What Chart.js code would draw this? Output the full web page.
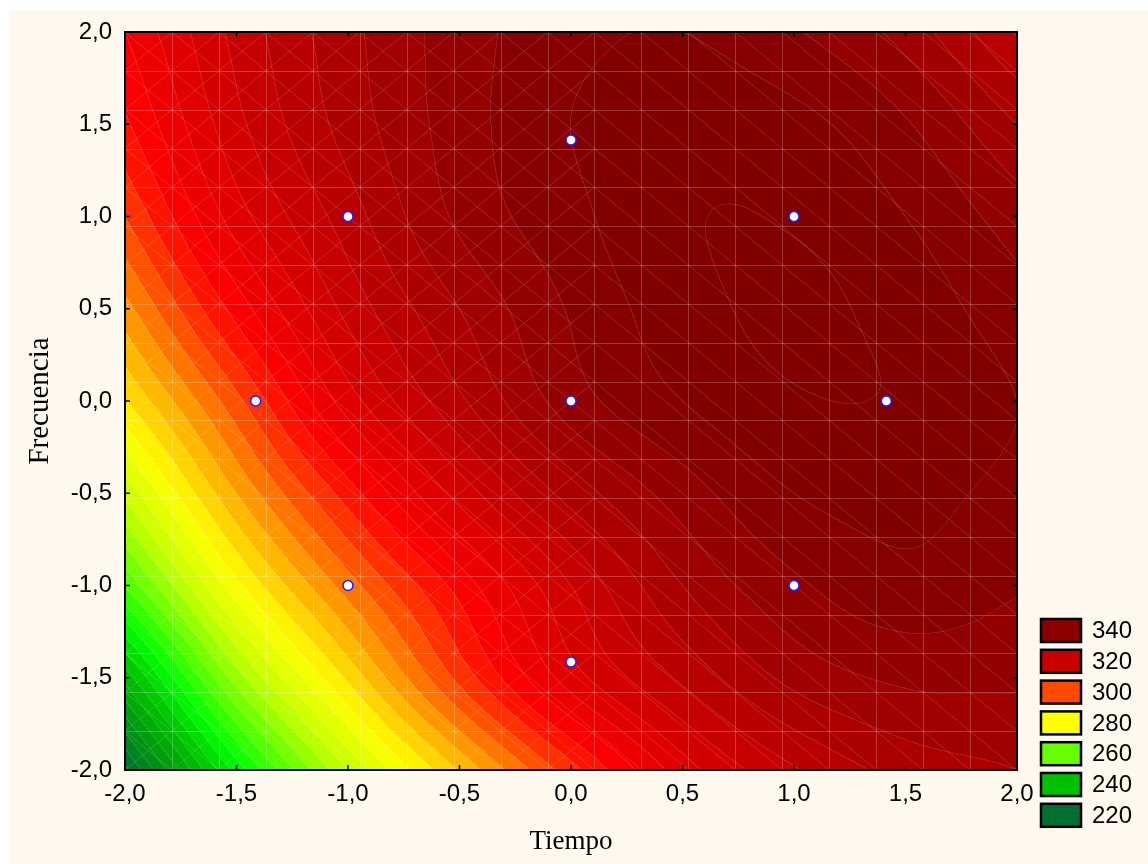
<!DOCTYPE html>
<html>
<head>
<meta charset="utf-8">
<script src="https://cdn.jsdelivr.net/npm/chart.js@4.4.0/dist/chart.umd.min.js"></script>
<style>
  html, body { margin: 0; padding: 0; background: #fff; }
  canvas { display: block; }
</style>
</head>
<body>
<canvas id="contour" width="1148" height="864"></canvas>
<script>
// surface, node grid every 0.5 (rows top -> bottom)
const gridTiempo = [-2, -1.5, -1, -0.5, 0, 0.5, 1, 1.5, 2];
const gridFrecuencia = [2, 1.5, 1, 0.5, 0, -0.5, -1, -1.5, -2];
const respuesta = [
  [310, 321, 329, 335, 339, 340, 337, 332, 323],
  [306, 319, 328, 335, 340, 342, 341, 337, 330],
  [300, 315, 325, 334, 339, 343, 343, 340, 335],
  [292, 308, 321, 330, 337, 342, 344, 342, 338],
  [283, 299, 315, 326, 335, 340, 343, 343, 340],
  [271, 290, 305, 318, 328, 335, 340, 341, 339],
  [257, 279, 295, 308, 320, 330, 336, 339, 337],
  [238, 265, 284, 301, 315, 324, 331, 334, 334],
  [219, 248, 270, 287, 302, 315, 323, 328, 330]
];

// design points
const puntosTiempo = [-1, 1, -1, 1, -1.414, 1.414, 0, 0, 0];
const puntosFrecuencia = [-1, -1, 1, 1, 0, 0, -1.414, 1.414, 0];

const tickValues = [-2, -1.5, -1, -0.5, 0, 0.5, 1, 1.5, 2];

const legendLevels = [340, 320, 300, 280, 260, 240, 220];
const legendColors = ['#8c0000', '#c80000', '#ff4a00', '#ffff00', '#66ff00', '#00c000', '#007030'];

// colour ramp used for the shading
const rampLevels = [215, 220, 230, 240, 250, 260, 270, 280, 290, 300, 307, 320, 330, 340];
const rampColors = [
  [0, 90, 55], [0, 112, 48], [0, 150, 15], [0, 192, 0], [0, 255, 0], [102, 255, 0],
  [200, 255, 0], [255, 255, 0], [255, 170, 0], [255, 64, 0], [255, 0, 0],
  [205, 0, 0], [165, 0, 0], [128, 0, 0]
];
const bandStep = 20 / 6;

const SANS = "'Liberation Sans', Arial, sans-serif";
const SERIF = "'Liberation Serif', 'Times New Roman', serif";

function fmt(v) {
  return (Math.round(v * 10) / 10).toFixed(1).replace('.', ',');
}

function node(j, i) {
  // linear extrapolation past the edge keeps the border smooth
  if (i < 0) return 2 * node(j, 0) - node(j, 1);
  if (i > 8) return 2 * node(j, 8) - node(j, 7);
  if (j < 0) return 2 * node(0, i) - node(1, i);
  if (j > 8) return 2 * node(8, i) - node(7, i);
  return respuesta[j][i];
}

function cr(p0, p1, p2, p3, t) {
  return p1 + 0.5 * t * (p2 - p0 + t * (2 * p0 - 5 * p1 + 4 * p2 - p3 + t * (3 * (p1 - p2) + p3 - p0)));
}

function valueAt(x, y) {
  let fx = (x - gridTiempo[0]) / 0.5;
  let fy = (gridFrecuencia[0] - y) / 0.5;
  fx = Math.max(0, Math.min(7.9999, fx));
  fy = Math.max(0, Math.min(7.9999, fy));
  const i = Math.floor(fx), j = Math.floor(fy);
  const tx = fx - i, ty = fy - j;
  const rows = [];
  for (let k = -1; k <= 2; k++) {
    rows.push(cr(node(j + k, i - 1), node(j + k, i), node(j + k, i + 1), node(j + k, i + 2), tx));
  }
  return cr(rows[0], rows[1], rows[2], rows[3], ty);
}

function colorFor(v) {
  if (v <= rampLevels[0]) return rampColors[0];
  const n = rampLevels.length;
  if (v >= rampLevels[n - 1]) return rampColors[n - 1];
  let k = 0;
  while (rampLevels[k + 1] < v) k++;
  const t = (v - rampLevels[k]) / (rampLevels[k + 1] - rampLevels[k]);
  const a = rampColors[k], b = rampColors[k + 1];
  return [a[0] + (b[0] - a[0]) * t, a[1] + (b[1] - a[1]) * t, a[2] + (b[2] - a[2]) * t];
}

const backgroundPlugin = {
  id: 'background',
  beforeDraw(chart) {
    const ctx = chart.ctx;
    ctx.save();
    ctx.fillStyle = '#ffffff';
    ctx.fillRect(0, 0, chart.width, chart.height);
    ctx.fillStyle = '#fdf9ef';
    ctx.fillRect(9, 11, chart.width - 9, chart.height - 11);
    ctx.restore();
  }
};

const surfacePlugin = {
  id: 'surface',
  beforeDatasetsDraw(chart) {
    const { ctx, chartArea: a, scales: { x, y } } = chart;
    const left = Math.round(a.left), top = Math.round(a.top);
    const w = Math.round(a.right) - left, h = Math.round(a.bottom) - top;
    const img = ctx.createImageData(w, h);
    const d = img.data;
    const band = new Int16Array(w * h);
    for (let py = 0; py < h; py++) {
      const fy = y.getValueForPixel(top + py + 0.5);
      for (let px = 0; px < w; px++) {
        const fx = x.getValueForPixel(left + px + 0.5);
        const b = Math.floor(valueAt(fx, fy) / bandStep);
        band[py * w + px] = b;
        const c = colorFor((b + 0.5) * bandStep);
        const o = (py * w + px) * 4;
        d[o] = c[0]; d[o + 1] = c[1]; d[o + 2] = c[2]; d[o + 3] = 255;
      }
    }
    // faint isolines where the band changes
    for (let py = 0; py < h - 1; py++) {
      for (let px = 0; px < w - 1; px++) {
        const k = py * w + px;
        if (band[k] !== band[k + 1] || band[k] !== band[k + w]) {
          const o = k * 4;
          d[o] += (255 - d[o]) * 0.1;
          d[o + 1] += (255 - d[o + 1]) * 0.1;
          d[o + 2] += (255 - d[o + 2]) * 0.1;
        }
      }
    }
    ctx.putImageData(img, left, top);

    // faint mesh of the fitted surface
    ctx.save();
    ctx.beginPath();
    ctx.rect(a.left, a.top, a.right - a.left, a.bottom - a.top);
    ctx.clip();
    ctx.lineWidth = 1;
    const cells = 19;
    const step = 4 / cells;
    ctx.strokeStyle = 'rgba(255,255,255,0.22)';
    ctx.beginPath();
    for (let k = 1; k < cells; k++) {
      const px = Math.round(x.getPixelForValue(-2 + k * step)) + 0.5;
      const py = Math.round(y.getPixelForValue(-2 + k * step)) + 0.5;
      ctx.moveTo(px, a.top); ctx.lineTo(px, a.bottom);
      ctx.moveTo(a.left, py); ctx.lineTo(a.right, py);
    }
    ctx.stroke();
    ctx.strokeStyle = 'rgba(255,255,255,0.15)';
    ctx.beginPath();
    for (let i = 0; i < cells; i++) {
      for (let j = 0; j < cells; j++) {
        const x0 = -2 + i * step, x1 = x0 + step;
        const y0 = -2 + j * step, y1 = y0 + step;
        if ((x0 + x1) / 2 < 0) {
          ctx.moveTo(x.getPixelForValue(x0), y.getPixelForValue(y0));
          ctx.lineTo(x.getPixelForValue(x1), y.getPixelForValue(y1));
        }
        ctx.moveTo(x.getPixelForValue(x0), y.getPixelForValue(y1));
        ctx.lineTo(x.getPixelForValue(x1), y.getPixelForValue(y0));
      }
    }
    ctx.stroke();
    ctx.restore();
  }
};

const framePlugin = {
  id: 'frame',
  afterDraw(chart) {
    const { ctx, chartArea: a, scales: { x, y } } = chart;
    ctx.save();
    ctx.strokeStyle = '#000';
    ctx.lineWidth = 2;
    ctx.strokeRect(a.left, a.top, a.right - a.left, a.bottom - a.top);
    ctx.lineWidth = 1.5;
    ctx.beginPath();
    tickValues.forEach(v => {
      const px = x.getPixelForValue(v);
      ctx.moveTo(px, a.bottom); ctx.lineTo(px, a.bottom - 5);
      ctx.moveTo(px, a.top); ctx.lineTo(px, a.top + 5);
      const py = y.getPixelForValue(v);
      ctx.moveTo(a.left, py); ctx.lineTo(a.left + 5, py);
      ctx.moveTo(a.right, py); ctx.lineTo(a.right - 5, py);
    });
    ctx.stroke();

    // legend
    const lx = a.right + 24;
    ctx.font = '24px ' + SANS;
    ctx.textBaseline = 'middle';
    ctx.textAlign = 'left';
    legendLevels.forEach((lev, i) => {
      const ty = 619 + i * 30.8;
      ctx.fillStyle = legendColors[i];
      ctx.fillRect(lx, ty, 40, 23);
      ctx.lineWidth = 2.5;
      ctx.strokeStyle = '#000';
      ctx.strokeRect(lx, ty, 40, 23);
      ctx.fillStyle = '#000';
      ctx.fillText(String(lev), lx + 51, ty + 12.5);
    });
    ctx.restore();
  }
};

const points = puntosTiempo.map((t, i) => ({ x: t, y: puntosFrecuencia[i] }));

new Chart(document.getElementById('contour'), {
  type: 'scatter',
  data: {
    datasets: [{
      data: points,
      pointRadius: 5,
      pointHoverRadius: 5,
      pointBackgroundColor: '#ffffff',
      pointBorderColor: '#1f1fff',
      pointBorderWidth: 1.5
    }]
  },
  options: {
    responsive: false,
    animation: false,
    devicePixelRatio: 1,
    layout: { padding: { left: 9, top: 32, right: 131, bottom: 0 } },
    plugins: { legend: { display: false }, tooltip: { enabled: false } },
    scales: {
      x: {
        type: 'linear',
        min: -2,
        max: 2,
        afterBuildTicks: s => { s.ticks = tickValues.map(v => ({ value: v })); },
        afterFit: s => { s.height = 94; },
        ticks: {
          callback: v => fmt(v),
          font: { family: SANS, size: 24 },
          color: '#000',
          padding: 10,
          maxRotation: 0,
          autoSkip: false
        },
        grid: { display: false, drawTicks: false },
        border: { display: false },
        title: {
          display: true,
          text: 'Tiempo',
          font: { family: SERIF, size: 27 },
          color: '#000',
          padding: { top: 0, bottom: 6 }
        }
      },
      y: {
        type: 'linear',
        min: -2,
        max: 2,
        afterBuildTicks: s => { s.ticks = tickValues.map(v => ({ value: v })); },
        afterFit: s => { s.width = 116; },
        ticks: {
          callback: v => fmt(v),
          font: { family: SANS, size: 24 },
          color: '#000',
          padding: 13,
          autoSkip: false
        },
        grid: { display: false, drawTicks: false },
        border: { display: false },
        title: {
          display: true,
          text: 'Frecuencia',
          font: { family: SERIF, size: 29 },
          color: '#000',
          padding: { top: 14, bottom: 0 }
        }
      }
    }
  },
  plugins: [backgroundPlugin, surfacePlugin, framePlugin]
});
</script>
</body>
</html>
